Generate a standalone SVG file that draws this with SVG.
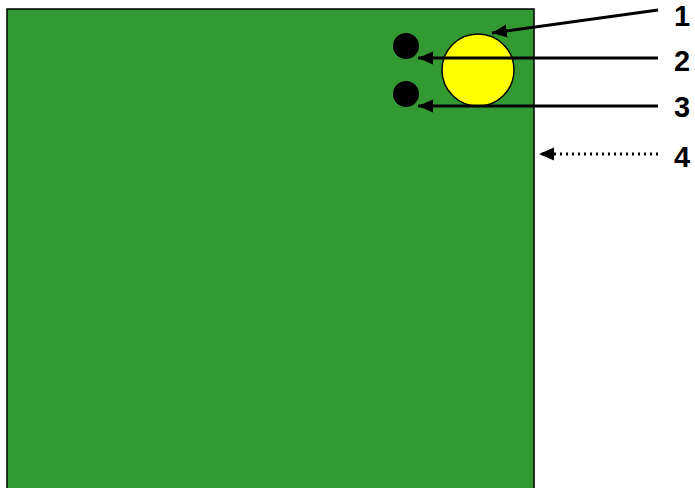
<svg xmlns="http://www.w3.org/2000/svg" width="695" height="488" viewBox="0 0 695 488">
<style>
.lbl{font-family:"Liberation Sans",Arial,sans-serif;font-weight:bold;font-size:29px;fill:#000}
.ln{stroke:#000;stroke-width:3;fill:none}
.dot{stroke:#000;stroke-width:3;fill:none;stroke-dasharray:2 4}
</style>
<defs>
<marker id="ah" markerWidth="5" markerHeight="4.4" refX="5" refY="2.2" orient="auto" markerUnits="strokeWidth" viewBox="0 0 5 4.4">
<path d="M0,0 L5,2.2 L0,4.4 Z" fill="#000"/>
</marker>
</defs>
<g id="board">
<rect x="7" y="9" width="527" height="490" fill="#339933" stroke="#000" stroke-width="1.5"/>
</g>
<g id="yellow">
<circle cx="478" cy="70" r="36" fill="#ffff00" stroke="#000" stroke-width="1.5"/>
</g>
<g id="dot1"><circle cx="406" cy="46" r="13" fill="#000"/></g>
<g id="dot2"><circle cx="406" cy="94" r="13" fill="#000"/></g>
<g id="connectors">
<path class="ln" d="M658,10 L492,33" marker-end="url(#ah)"/>
<path class="ln" d="M658,58 L418,58" marker-end="url(#ah)"/>
<path class="ln" d="M658,106 L418,106" marker-end="url(#ah)"/>
<path class="dot" d="M658,154 L539,154" marker-end="url(#ah)"/>
</g>
<g id="labels">
<text class="lbl" x="674" y="26">1</text>
<text class="lbl" x="674" y="71">2</text>
<text class="lbl" x="674" y="117">3</text>
<text class="lbl" x="674" y="167">4</text>
</g>
</svg>
